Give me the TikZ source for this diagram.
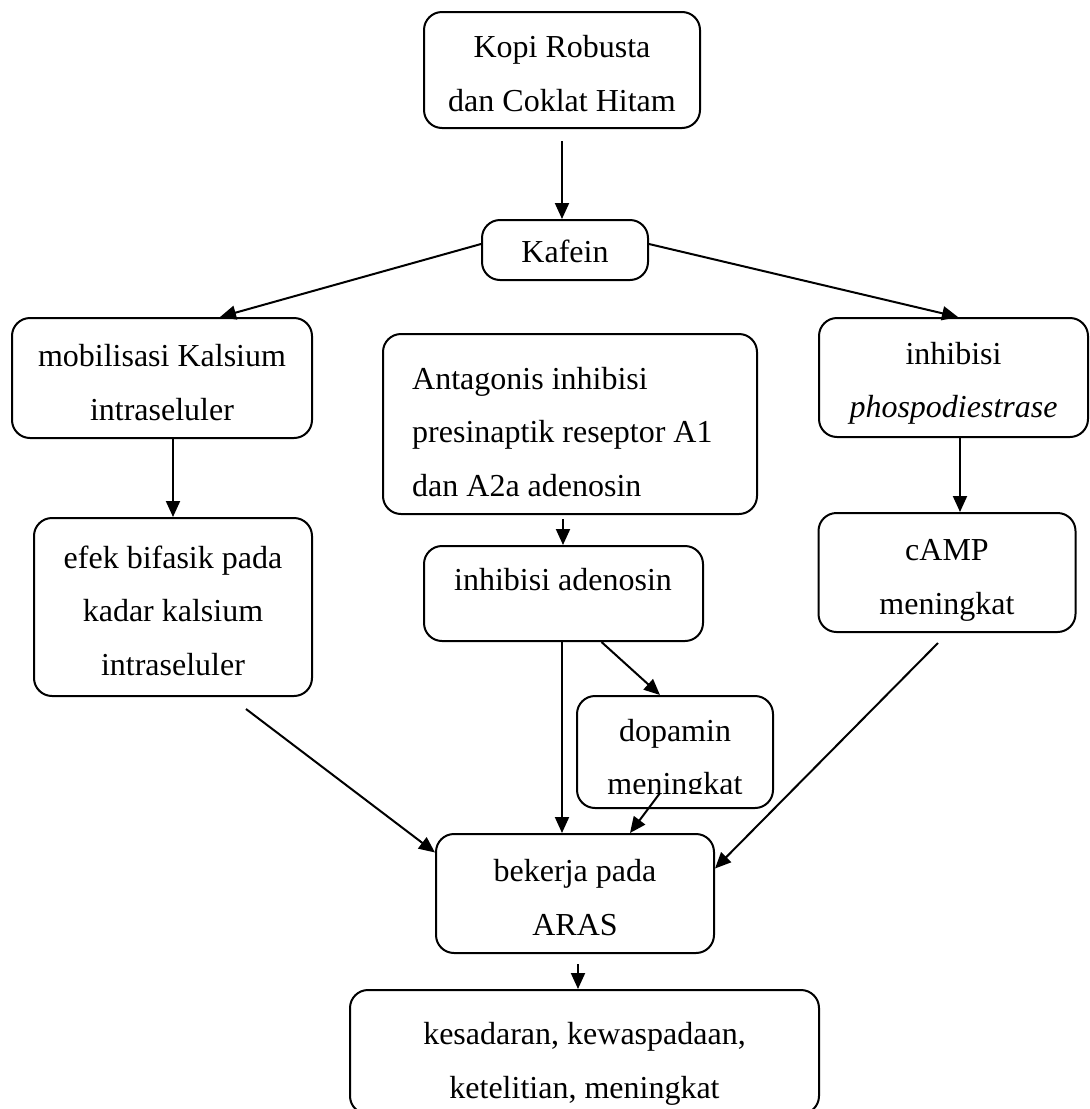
\documentclass[tikz,border=0pt]{standalone}
\usepackage{fontspec}
\setmainfont{Liberation Serif}
\usetikzlibrary{arrows.meta,calc}
\begin{document}
\begin{tikzpicture}[x=1pt,y=-1pt,
  box/.style={draw, line width=2pt, rounded corners=18pt, inner sep=0pt},
  txt/.style={inner sep=0pt, align=center, font=\fontsize{32}{53.5}\selectfont},
  arr/.style={line width=2pt, -{Triangle[length=16pt,width=14pt]}}]
\useasboundingbox (0,0) rectangle (1090,1109);

\node[box, minimum width=276, minimum height=116] (kopi) at (562,70) {};
\node[txt] (kopit) at (562,73.5) {Kopi Robusta\\dan Coklat Hitam};
\node[box, minimum width=166, minimum height=60] (kafein) at (565,250) {};
\node[txt] (kafeint) at (565,251) {Kafein};
\node[box, minimum width=300, minimum height=120] (mob) at (162,378) {};
\node[txt] (mobt) at (162,382.5) {mobilisasi Kalsium\\intraseluler};
\node[box, minimum width=278, minimum height=178] (efek) at (173,607) {};
\node[txt] (efekt) at (173,610.5) {efek bifasik pada\\kadar kalsium\\intraseluler};
\node[box, minimum width=374, minimum height=180] (ant) at (570,424) {};
\node[txt, align=left, anchor=west] (antt) at (412,432) {Antagonis inhibisi\\presinaptik reseptor A1\\dan A2a adenosin};
\node[box, minimum width=279, minimum height=95] (ade) at (563.5,593.5) {};
\node[txt, anchor=base] (adet) at (563,590) {inhibisi adenosin};
\node[box, minimum width=196, minimum height=112] (dopa) at (675,752) {};
\begin{scope}
\clip (560,700) rectangle (790,793);
\node[txt, anchor=base] (dopat) at (675,741) {dopamin};
\node[txt, anchor=base] (dopat2) at (675,794) {meningkat};
\end{scope}
\node[box, minimum width=269, minimum height=119] (ph) at (953.5,377.5) {};
\node[txt] (pht) at (953.5,383.5) {inhibisi\\\textit{phospodiestrase}};
\node[box, minimum width=257, minimum height=119] (camp) at (947,572.5) {};
\node[txt] (campt) at (947,580.5) {cAMP\\meningkat};
\node[box, minimum width=278, minimum height=119] (aras) at (575,893.5) {};
\node[txt] (arast) at (575,897.5) {bekerja pada\\ARAS};
\node[box, minimum width=469, minimum height=124] (fin) at (584.5,1052) {};
\node[txt] (fint) at (584.5,1064) {kesadaran, kewaspadaan,\\ketelitian, meningkat};

% connectors
\coordinate (k1) at ($(kopi.south)+(0,12)$);
\draw[arr] (k1) -- (k1 |- kafein.north);
\draw[arr] ($(kafein.west)+(0,-6)$) -- ($(mob.north)+(58,0)$);
\draw[arr] ($(kafein.east)+(0,-6)$) -- ($(ph.north)+(4.5,0)$);
\draw[arr] (mob.south -| efek.north) -- (efek.north);
\coordinate (a1) at ($(ant.south -| ade.north)+(-0.5,4)$);
\draw[arr] (a1) -- (a1 |- ade.north);
\coordinate (p1) at ($(ph.south)+(6.5,0)$);
\draw[arr] (p1) -- (p1 |- camp.north);
\draw[arr] ($(ade.south)+(38,0)$) -- ($(dopa.north)+(-15,0)$);
\coordinate (d1) at ($(ade.south)+(-1.5,0)$);
\draw[arr] (d1) -- (d1 |- aras.north);
\draw[arr] ($(dopa.south)+(-15,-16)$) -- ($(aras.north)+(55,0)$);
\draw[arr] ($(camp.south)+(-9,10)$) -- ($(aras.east)+(0,-25)$);
\draw[arr] ($(efek.south)+(73,12)$) -- ($(aras.west)+(0,-41)$);
\coordinate (r1) at ($(aras.south)+(3,10)$);
\draw[arr] (r1) -- (r1 |- fin.north);
\end{tikzpicture}
\end{document}
